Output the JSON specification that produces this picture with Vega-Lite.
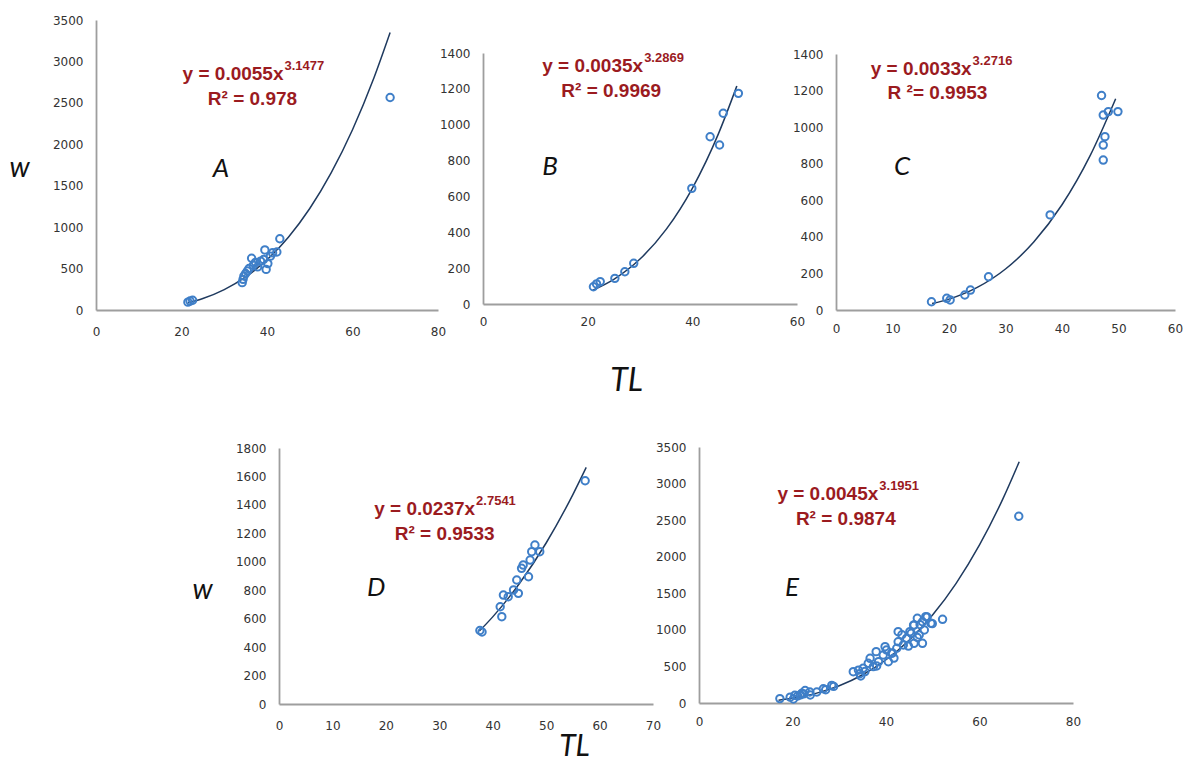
{
  "$schema": "https://vega.github.io/schema/vega-lite/v6.json",
  "width": 1184,
  "height": 762,
  "autosize": {"type": "none"},
  "padding": 0,
  "background": "white",
  "config": {
    "view": {"stroke": null},
    "axis": {
      "domainColor": "#9e9e9e",
      "domainWidth": 1.8,
      "ticks": false,
      "tickSize": 0,
      "grid": false,
      "format": "d",
      "labelFont": "DejaVu Sans",
      "labelFontSize": 12,
      "labelColor": "#333333",
      "labelFlush": false,
      "labelOverlap": false,
      "labelBound": false,
      "titleFont": "Lato",
      "titleFontStyle": "italic",
      "titleFontWeight": "normal",
      "titleColor": "#111111",
      "titleAngle": 0,
      "titleAlign": "center",
      "titleBaseline": "middle"
    },
    "axisY": {"labelPadding": 13},
    "axisX": {"labelPadding": 14}
  },
  "resolve": {
    "scale": {"x": "independent", "y": "independent"},
    "axis": {"x": "independent", "y": "independent"}
  },
  "layer": [
    {
      "encoding": {
        "x": {"field": "x", "type": "quantitative",
          "scale": {"domain": [0, 80], "range": [96, 438], "nice": false, "zero": false},
          "axis": {"orient": "bottom", "offset": -452, "values": [0, 20, 40, 60, 80], "title": null, "labelPadding": 16}},
        "y": {"field": "y", "type": "quantitative",
          "scale": {"domain": [0, 3500], "range": [310, 20], "nice": false, "zero": false},
          "axis": {"orient": "left", "offset": -96, "values": [0, 500, 1000, 1500, 2000, 2500, 3000, 3500],
            "title": "w", "titleX": -77, "titleY": 168, "titleFontSize": 28}}
      },
      "layer": [
        {"data": {"values": [
          {"x": 21.5, "y": 86}, {"x": 25, "y": 138}, {"x": 30, "y": 245}, {"x": 35, "y": 399}, {"x": 40, "y": 607},
          {"x": 45, "y": 879}, {"x": 50, "y": 1225}, {"x": 55, "y": 1654}, {"x": 60, "y": 2175}, {"x": 65, "y": 2799}, {"x": 68.8, "y": 3348}]},
          "mark": {"type": "line", "interpolate": "monotone", "color": "#1f3a5f", "strokeWidth": 1.5}, "encoding": {}},
        {"data": {"values": [
          {"x": 21.5, "y": 95}, {"x": 22.0, "y": 108}, {"x": 22.6, "y": 118}, {"x": 34.2, "y": 330}, {"x": 34.4, "y": 370},
          {"x": 34.6, "y": 410}, {"x": 35.0, "y": 440}, {"x": 35.4, "y": 470}, {"x": 35.8, "y": 500}, {"x": 36.4, "y": 625},
          {"x": 36.8, "y": 540}, {"x": 37.3, "y": 575}, {"x": 37.8, "y": 520}, {"x": 38.5, "y": 590}, {"x": 39.2, "y": 610},
          {"x": 39.5, "y": 725}, {"x": 39.8, "y": 490}, {"x": 40.2, "y": 560}, {"x": 40.8, "y": 650}, {"x": 41.3, "y": 690},
          {"x": 42.3, "y": 700}, {"x": 43.0, "y": 860}, {"x": 68.8, "y": 2565}]},
          "mark": {"type": "point", "shape": "circle", "filled": false, "size": 55, "strokeWidth": 2, "color": "#3f7fc8", "opacity": 1}},
        {"data": {"values": [{"x": 43.86, "y": 2776, "t": "y = 0.0055x", "s": "3.1477"}]},
          "mark": {"type": "text", "align": "right", "baseline": "alphabetic", "font": "Liberation Sans", "fontWeight": "bold", "fontSize": 19, "color": "#9b1b1f"},
          "encoding": {"text": {"field": "t", "type": "nominal"}}},
        {"data": {"values": [{"x": 43.86, "y": 2776, "t": "y = 0.0055x", "s": "3.1477"}]},
          "mark": {"type": "text", "align": "left", "baseline": "alphabetic", "dx": 1, "dy": -10, "font": "Liberation Sans", "fontWeight": "bold", "fontSize": 13, "color": "#9b1b1f"},
          "encoding": {"text": {"field": "s", "type": "nominal"}}},
        {"data": {"values": [{"x": 36.6, "y": 2474, "t": "R² = 0.978"}]},
          "mark": {"type": "text", "align": "center", "baseline": "alphabetic", "font": "Liberation Sans", "fontWeight": "bold", "fontSize": 19, "color": "#9b1b1f"},
          "encoding": {"text": {"field": "t", "type": "nominal"}}},
        {"data": {"values": [{"x": 29.2, "y": 1702, "t": "A"}]},
          "mark": {"type": "text", "align": "center", "baseline": "middle", "font": "Lato", "fontStyle": "italic", "fontSize": 26, "color": "#111111"},
          "encoding": {"text": {"field": "t", "type": "nominal"}}}
      ]
    },
    {
      "encoding": {
        "x": {"field": "x", "type": "quantitative",
          "scale": {"domain": [0, 60], "range": [483, 797], "nice": false, "zero": false},
          "axis": {"orient": "bottom", "offset": -458, "values": [0, 20, 40, 60], "labelPadding": 12,
            "title": "TL", "titleX": 626, "titleY": 76, "titleFontSize": 32}},
        "y": {"field": "y", "type": "quantitative",
          "scale": {"domain": [0, 1400], "range": [304, 53], "nice": false, "zero": false},
          "axis": {"orient": "left", "offset": -483, "values": [0, 200, 400, 600, 800, 1000, 1200, 1400], "title": null}}
      },
      "layer": [
        {"data": {"values": [
          {"x": 21, "y": 77.6}, {"x": 25, "y": 137.7}, {"x": 30, "y": 250.6}, {"x": 35, "y": 416}, {"x": 40, "y": 645.5},
          {"x": 45, "y": 950.5}, {"x": 48.5, "y": 1215.6}]},
          "mark": {"type": "line", "interpolate": "monotone", "color": "#1f3a5f", "strokeWidth": 1.5}, "encoding": {}},
        {"data": {"values": [
          {"x": 21.1, "y": 96}, {"x": 21.7, "y": 112}, {"x": 22.4, "y": 125}, {"x": 25.2, "y": 143}, {"x": 27.1, "y": 180},
          {"x": 28.8, "y": 227}, {"x": 39.9, "y": 645}, {"x": 43.4, "y": 933}, {"x": 45.2, "y": 887}, {"x": 45.9, "y": 1064},
          {"x": 48.8, "y": 1175}]},
          "mark": {"type": "point", "shape": "circle", "filled": false, "size": 55, "strokeWidth": 2, "color": "#3f7fc8", "opacity": 1}},
        {"data": {"values": [{"x": 30.6, "y": 1296, "t": "y = 0.0035x", "s": "3.2869"}]},
          "mark": {"type": "text", "align": "right", "baseline": "alphabetic", "font": "Liberation Sans", "fontWeight": "bold", "fontSize": 19, "color": "#9b1b1f"},
          "encoding": {"text": {"field": "t", "type": "nominal"}}},
        {"data": {"values": [{"x": 30.6, "y": 1296, "t": "y = 0.0035x", "s": "3.2869"}]},
          "mark": {"type": "text", "align": "left", "baseline": "alphabetic", "dx": 1, "dy": -10, "font": "Liberation Sans", "fontWeight": "bold", "fontSize": 13, "color": "#9b1b1f"},
          "encoding": {"text": {"field": "s", "type": "nominal"}}},
        {"data": {"values": [{"x": 24.5, "y": 1156, "t": "R² = 0.9969"}]},
          "mark": {"type": "text", "align": "center", "baseline": "alphabetic", "font": "Liberation Sans", "fontWeight": "bold", "fontSize": 19, "color": "#9b1b1f"},
          "encoding": {"text": {"field": "t", "type": "nominal"}}},
        {"data": {"values": [{"x": 12.8, "y": 764, "t": "B"}]},
          "mark": {"type": "text", "align": "center", "baseline": "middle", "font": "Lato", "fontStyle": "italic", "fontSize": 26, "color": "#111111"},
          "encoding": {"text": {"field": "t", "type": "nominal"}}}
      ]
    },
    {
      "encoding": {
        "x": {"field": "x", "type": "quantitative",
          "scale": {"domain": [0, 60], "range": [836, 1175], "nice": false, "zero": false},
          "axis": {"orient": "bottom", "offset": -452, "values": [0, 10, 20, 30, 40, 50, 60], "labelPadding": 13, "title": null}},
        "y": {"field": "y", "type": "quantitative",
          "scale": {"domain": [0, 1400], "range": [310, 54], "nice": false, "zero": false},
          "axis": {"orient": "left", "offset": -836, "values": [0, 200, 400, 600, 800, 1000, 1200, 1400], "title": null}}
      },
      "layer": [
        {"data": {"values": [
          {"x": 17, "y": 35}, {"x": 20, "y": 59.6}, {"x": 25, "y": 123.6}, {"x": 30, "y": 224.3}, {"x": 35, "y": 371.7},
          {"x": 40, "y": 575.4}, {"x": 45, "y": 845.7}, {"x": 49.5, "y": 1155.7}]},
          "mark": {"type": "line", "interpolate": "monotone", "color": "#1f3a5f", "strokeWidth": 1.5}, "encoding": {}},
        {"data": {"values": [
          {"x": 16.9, "y": 45}, {"x": 19.6, "y": 64}, {"x": 20.2, "y": 55}, {"x": 22.8, "y": 82}, {"x": 23.8, "y": 109},
          {"x": 27.0, "y": 182}, {"x": 37.9, "y": 520}, {"x": 47.0, "y": 1173}, {"x": 47.3, "y": 1066}, {"x": 48.2, "y": 1085},
          {"x": 49.9, "y": 1085}, {"x": 47.6, "y": 948}, {"x": 47.3, "y": 902}, {"x": 47.3, "y": 820}]},
          "mark": {"type": "point", "shape": "circle", "filled": false, "size": 55, "strokeWidth": 2, "color": "#3f7fc8", "opacity": 1}},
        {"data": {"values": [{"x": 24.0, "y": 1285, "t": "y = 0.0033x", "s": "3.2716"}]},
          "mark": {"type": "text", "align": "right", "baseline": "alphabetic", "font": "Liberation Sans", "fontWeight": "bold", "fontSize": 19, "color": "#9b1b1f"},
          "encoding": {"text": {"field": "t", "type": "nominal"}}},
        {"data": {"values": [{"x": 24.0, "y": 1285, "t": "y = 0.0033x", "s": "3.2716"}]},
          "mark": {"type": "text", "align": "left", "baseline": "alphabetic", "dx": 1, "dy": -10, "font": "Liberation Sans", "fontWeight": "bold", "fontSize": 13, "color": "#9b1b1f"},
          "encoding": {"text": {"field": "s", "type": "nominal"}}},
        {"data": {"values": [{"x": 17.96, "y": 1152, "t": "R ²= 0.9953"}]},
          "mark": {"type": "text", "align": "center", "baseline": "alphabetic", "font": "Liberation Sans", "fontWeight": "bold", "fontSize": 19, "color": "#9b1b1f"},
          "encoding": {"text": {"field": "t", "type": "nominal"}}},
        {"data": {"values": [{"x": 11.7, "y": 782, "t": "C"}]},
          "mark": {"type": "text", "align": "center", "baseline": "middle", "font": "Lato", "fontStyle": "italic", "fontSize": 26, "color": "#111111"},
          "encoding": {"text": {"field": "t", "type": "nominal"}}}
      ]
    },
    {
      "encoding": {
        "x": {"field": "x", "type": "quantitative",
          "scale": {"domain": [0, 70], "range": [279, 653], "nice": false, "zero": false},
          "axis": {"orient": "bottom", "offset": -58, "values": [0, 10, 20, 30, 40, 50, 60, 70], "labelPadding": 16,
            "title": "TL", "titleX": 574, "titleY": 42, "titleFontSize": 30}},
        "y": {"field": "y", "type": "quantitative",
          "scale": {"domain": [0, 1800], "range": [704, 448], "nice": false, "zero": false},
          "axis": {"orient": "left", "offset": -279, "values": [0, 200, 400, 600, 800, 1000, 1200, 1400, 1600, 1800],
            "title": "w", "titleX": -77, "titleY": 590, "titleFontSize": 28}}
      },
      "layer": [
        {"data": {"values": [
          {"x": 37.5, "y": 512.7}, {"x": 40, "y": 612.6}, {"x": 45, "y": 847}, {"x": 50, "y": 1132}, {"x": 55, "y": 1472.5},
          {"x": 57.5, "y": 1663.5}]},
          "mark": {"type": "line", "interpolate": "monotone", "color": "#1f3a5f", "strokeWidth": 1.5}, "encoding": {}},
        {"data": {"values": [
          {"x": 37.6, "y": 517}, {"x": 38.0, "y": 506}, {"x": 41.4, "y": 684}, {"x": 41.7, "y": 614}, {"x": 42.0, "y": 766},
          {"x": 42.9, "y": 754}, {"x": 43.9, "y": 802}, {"x": 44.8, "y": 778}, {"x": 44.5, "y": 872}, {"x": 45.4, "y": 954},
          {"x": 45.7, "y": 977}, {"x": 46.7, "y": 895}, {"x": 47.0, "y": 1012}, {"x": 47.9, "y": 1118}, {"x": 48.8, "y": 1071},
          {"x": 47.3, "y": 1071}, {"x": 57.3, "y": 1570}]},
          "mark": {"type": "point", "shape": "circle", "filled": false, "size": 55, "strokeWidth": 2, "color": "#3f7fc8", "opacity": 1}},
        {"data": {"values": [{"x": 36.7, "y": 1329, "t": "y = 0.0237x", "s": "2.7541"}]},
          "mark": {"type": "text", "align": "right", "baseline": "alphabetic", "font": "Liberation Sans", "fontWeight": "bold", "fontSize": 19, "color": "#9b1b1f"},
          "encoding": {"text": {"field": "t", "type": "nominal"}}},
        {"data": {"values": [{"x": 36.7, "y": 1329, "t": "y = 0.0237x", "s": "2.7541"}]},
          "mark": {"type": "text", "align": "left", "baseline": "alphabetic", "dx": 1, "dy": -10, "font": "Liberation Sans", "fontWeight": "bold", "fontSize": 13, "color": "#9b1b1f"},
          "encoding": {"text": {"field": "s", "type": "nominal"}}},
        {"data": {"values": [{"x": 31.0, "y": 1153, "t": "R² = 0.9533"}]},
          "mark": {"type": "text", "align": "center", "baseline": "alphabetic", "font": "Liberation Sans", "fontWeight": "bold", "fontSize": 19, "color": "#9b1b1f"},
          "encoding": {"text": {"field": "t", "type": "nominal"}}},
        {"data": {"values": [{"x": 18.2, "y": 816, "t": "D"}]},
          "mark": {"type": "text", "align": "center", "baseline": "middle", "font": "Lato", "fontStyle": "italic", "fontSize": 26, "color": "#111111"},
          "encoding": {"text": {"field": "t", "type": "nominal"}}}
      ]
    },
    {
      "encoding": {
        "x": {"field": "x", "type": "quantitative",
          "scale": {"domain": [0, 80], "range": [699, 1073], "nice": false, "zero": false},
          "axis": {"orient": "bottom", "offset": -59, "values": [0, 20, 40, 60, 80], "labelPadding": 13, "title": null}},
        "y": {"field": "y", "type": "quantitative",
          "scale": {"domain": [0, 3500], "range": [703, 447], "nice": false, "zero": false},
          "axis": {"orient": "left", "offset": -699, "values": [0, 500, 1000, 1500, 2000, 2500, 3000, 3500], "title": null}}
      },
      "layer": [
        {"data": {"values": [
          {"x": 17, "y": 38.4}, {"x": 20, "y": 64.6}, {"x": 25, "y": 131.8}, {"x": 30, "y": 235.9}, {"x": 35, "y": 386.2},
          {"x": 40, "y": 591.3}, {"x": 45, "y": 862}, {"x": 50, "y": 1206}, {"x": 55, "y": 1636.6}, {"x": 60, "y": 2161},
          {"x": 65, "y": 2791}, {"x": 68.5, "y": 3299}]},
          "mark": {"type": "line", "interpolate": "monotone", "color": "#1f3a5f", "strokeWidth": 1.5}, "encoding": {}},
        {"data": {"values": [
          {"x": 17.3, "y": 60}, {"x": 19.5, "y": 80}, {"x": 20.2, "y": 55}, {"x": 20.5, "y": 105}, {"x": 21.1, "y": 96},
          {"x": 21.7, "y": 112}, {"x": 22.0, "y": 133}, {"x": 22.4, "y": 125}, {"x": 22.7, "y": 170}, {"x": 23.7, "y": 150},
          {"x": 23.8, "y": 109}, {"x": 25.2, "y": 150}, {"x": 26.6, "y": 195}, {"x": 27.1, "y": 182}, {"x": 28.4, "y": 240},
          {"x": 28.8, "y": 227}, {"x": 33.0, "y": 428}, {"x": 34.1, "y": 450}, {"x": 34.4, "y": 400}, {"x": 34.6, "y": 370},
          {"x": 35.1, "y": 474}, {"x": 35.5, "y": 430}, {"x": 36.2, "y": 543}, {"x": 36.6, "y": 611}, {"x": 37.3, "y": 497},
          {"x": 37.9, "y": 702}, {"x": 38.0, "y": 506}, {"x": 38.4, "y": 565}, {"x": 39.4, "y": 656}, {"x": 39.8, "y": 770},
          {"x": 40.1, "y": 725}, {"x": 40.5, "y": 565}, {"x": 41.2, "y": 680}, {"x": 41.4, "y": 684}, {"x": 41.7, "y": 614},
          {"x": 42.3, "y": 748}, {"x": 42.6, "y": 838}, {"x": 42.6, "y": 975}, {"x": 43.4, "y": 933}, {"x": 43.7, "y": 793},
          {"x": 44.4, "y": 884}, {"x": 44.8, "y": 778}, {"x": 45.1, "y": 975}, {"x": 45.4, "y": 954}, {"x": 45.9, "y": 1064},
          {"x": 46.0, "y": 816}, {"x": 46.0, "y": 1066}, {"x": 46.7, "y": 1158}, {"x": 46.7, "y": 895}, {"x": 47.1, "y": 930},
          {"x": 47.3, "y": 1071}, {"x": 47.8, "y": 816}, {"x": 47.8, "y": 1111}, {"x": 48.2, "y": 998}, {"x": 48.5, "y": 1180},
          {"x": 48.8, "y": 1175}, {"x": 49.6, "y": 1090}, {"x": 49.9, "y": 1085}, {"x": 52.1, "y": 1144}, {"x": 68.4, "y": 2553}]},
          "mark": {"type": "point", "shape": "circle", "filled": false, "size": 55, "strokeWidth": 2, "color": "#3f7fc8", "opacity": 1}},
        {"data": {"values": [{"x": 38.35, "y": 2775, "t": "y = 0.0045x", "s": "3.1951"}]},
          "mark": {"type": "text", "align": "right", "baseline": "alphabetic", "font": "Liberation Sans", "fontWeight": "bold", "fontSize": 19, "color": "#9b1b1f"},
          "encoding": {"text": {"field": "t", "type": "nominal"}}},
        {"data": {"values": [{"x": 38.35, "y": 2775, "t": "y = 0.0045x", "s": "3.1951"}]},
          "mark": {"type": "text", "align": "left", "baseline": "alphabetic", "dx": 1, "dy": -10, "font": "Liberation Sans", "fontWeight": "bold", "fontSize": 13, "color": "#9b1b1f"},
          "encoding": {"text": {"field": "s", "type": "nominal"}}},
        {"data": {"values": [{"x": 31.4, "y": 2434, "t": "R² = 0.9874"}]},
          "mark": {"type": "text", "align": "center", "baseline": "alphabetic", "font": "Liberation Sans", "fontWeight": "bold", "fontSize": 19, "color": "#9b1b1f"},
          "encoding": {"text": {"field": "t", "type": "nominal"}}},
        {"data": {"values": [{"x": 19.9, "y": 1572, "t": "E"}]},
          "mark": {"type": "text", "align": "center", "baseline": "middle", "font": "Lato", "fontStyle": "italic", "fontSize": 26, "color": "#111111"},
          "encoding": {"text": {"field": "t", "type": "nominal"}}}
      ]
    }
  ]
}
